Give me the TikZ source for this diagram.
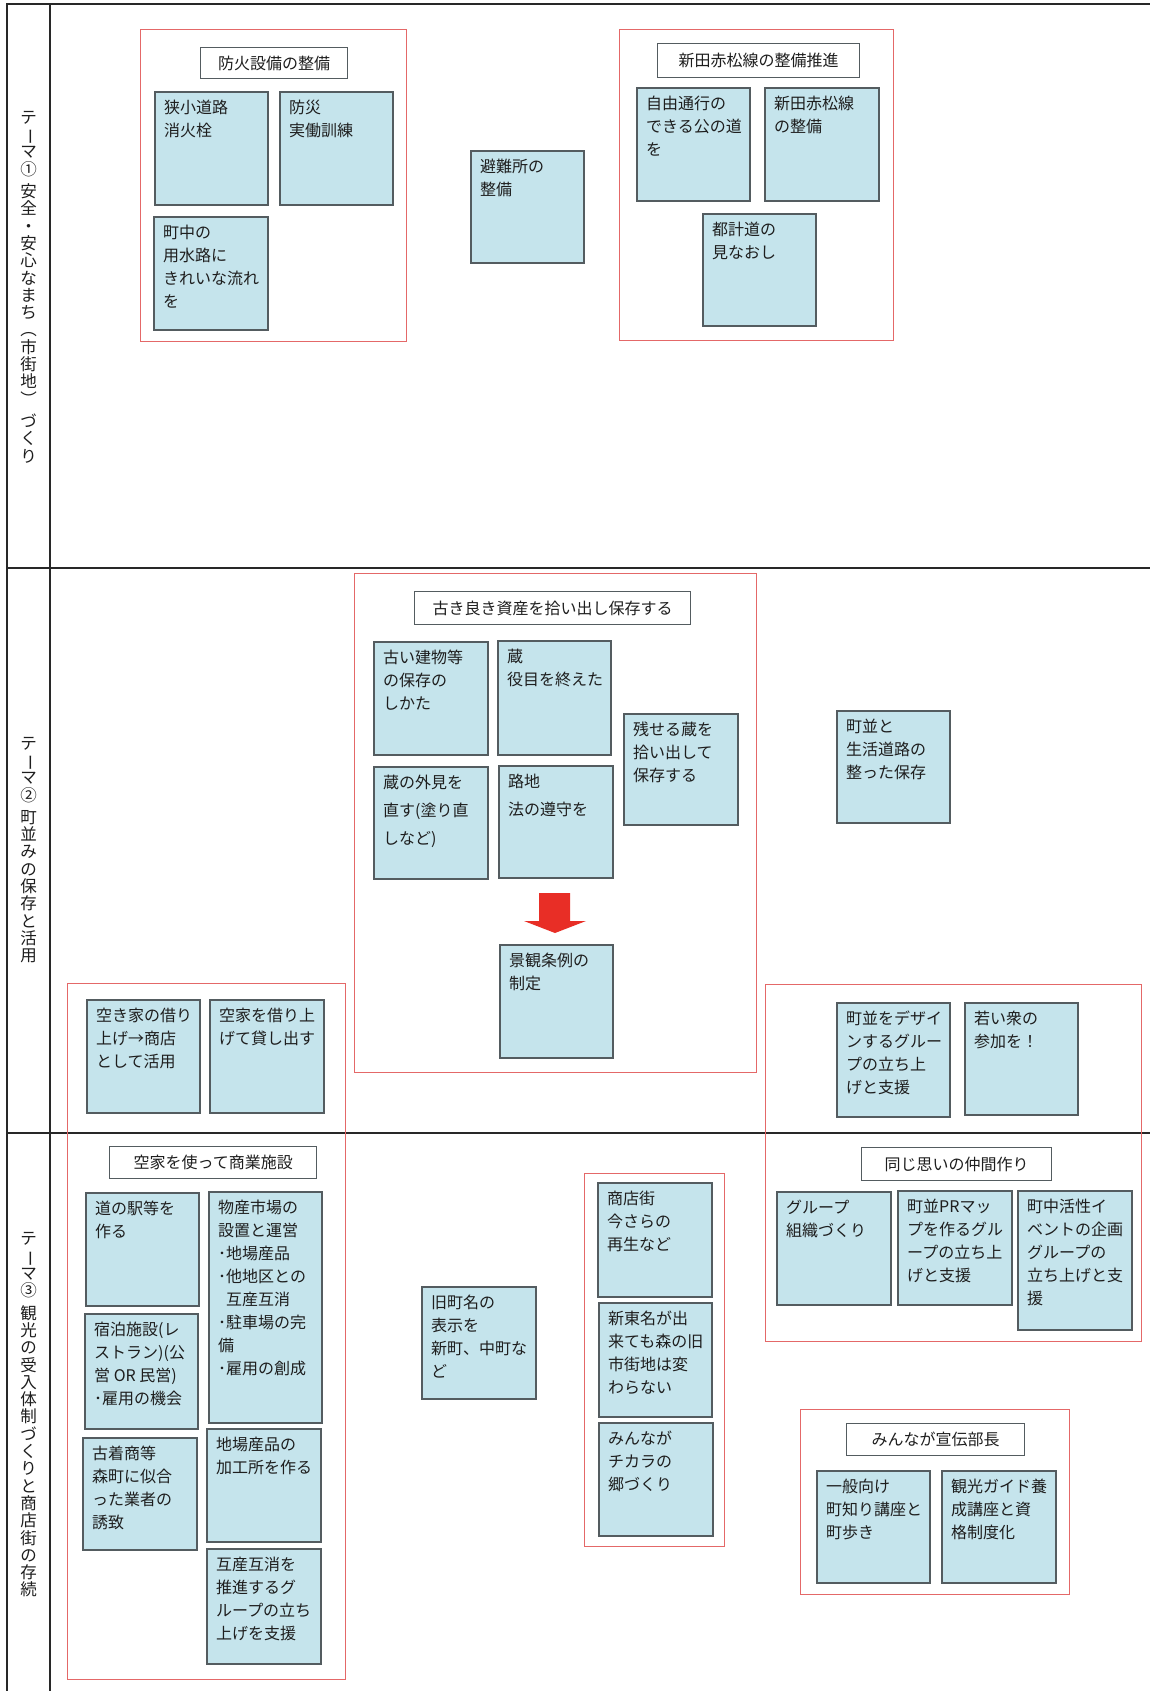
\documentclass[tikz,border=0pt]{standalone}
\usepackage{fontspec}
\usepackage{graphicx}
\setmainfont{Noto Sans CJK JP}
\definecolor{stickfill}{RGB}{197,228,236}
\definecolor{stickline}{RGB}{84,92,96}
\definecolor{groupred}{RGB}{228,104,104}
\definecolor{framecol}{RGB}{40,40,40}
\definecolor{txtcol}{RGB}{30,30,30}
\definecolor{arrowred}{RGB}{232,46,38}
\tikzset{
  stickbox/.style={draw=stickline, line width=1.8pt, fill=stickfill, anchor=north west, inner sep=0pt},
  sticktext/.style={anchor=north west, inner sep=0pt, align=left, text=txtcol},
  titlebox/.style={draw=stickline, line width=1.4pt, fill=white, text=txtcol, anchor=north west, inner sep=0pt, font=\fontsize{16pt}{20pt}\selectfont},
  groupbox/.style={draw=groupred, line width=1.4pt, anchor=north west, inner sep=0pt},
  frameline/.style={draw=framecol, line width=2.5pt},
  vlabel/.style={align=center, inner sep=0pt, text=txtcol, font=\fontsize{16.5pt}{17.3pt}\selectfont},
}
\newcommand\stk[7][23]{%
  \node[stickbox, minimum width=#5pt-#3pt, minimum height=#6pt-#4pt] (#2) at (#3,#4) {};
  \node[sticktext, font=\fontsize{16pt}{#1pt}\selectfont] (#2-t) at ([shift={(10pt,-6pt)}]#2.north west) {\rule{0pt}{16pt}#7};
}
\newcommand\ttl[6]{%
  \node[titlebox, minimum width=#4pt-#2pt, minimum height=#5pt-#3pt] (#1) at (#2,#3) {#6};
}
\newcommand\grp[5]{%
  \node[groupbox, minimum width=#4pt-#2pt, minimum height=#5pt-#3pt] (#1) at (#2,#3) {};
}
\newcommand\vbar{\rotatebox[origin=c]{-90}{ー}}
\begin{document}
\begin{tikzpicture}[x=1pt,y=-1pt]
\useasboundingbox (0,0) rectangle (1150,1691);
\fill[white] (0,0) rectangle (1150,1691);
% frame
\coordinate (ftl) at (7,4);
\coordinate (ftr) at (1150,4);
\coordinate (fbl) at (7,1691);
\coordinate (cdt) at (50,4);
\coordinate (cdb) at (50,1691);
\coordinate (r1l) at (7,568);
\coordinate (r1r) at (1150,568);
\coordinate (r2l) at (7,1133);
\coordinate (r2r) at (1150,1133);
\draw[frameline] (ftr) -- (ftl) -- (fbl);
\draw[frameline] (cdt) -- (cdb);
\draw[frameline, line width=2pt] (r1l) -- (r1r);
\draw[frameline, line width=2pt] (r2l) -- (r2r);
% labels
\node[vlabel] (lab1) at (28.5,287) {テ\\\vbar\\マ\\①\\[5pt]安\\全\\・\\安\\心\\な\\ま\\ち\\︵\\市\\街\\地\\︶\\[5pt]づ\\く\\り};
\node[vlabel] (lab2) at (28.5,850) {テ\\\vbar\\マ\\②\\[5pt]町\\並\\み\\の\\保\\存\\と\\活\\用};
\node[vlabel] (lab3) at (28.5,1415) {テ\\\vbar\\マ\\③\\[5pt]観\\光\\の\\受\\入\\体\\制\\づ\\く\\り\\と\\商\\店\\街\\の\\存\\続};
% ---------- row 1
\grp{g1}{140}{29}{406}{341}
\ttl{t1}{200}{47}{347}{78}{防火設備の整備}
\stk{b11}{154}{91}{267}{204}{狭小道路\\消火栓}
\stk{b12}{279}{91}{392}{204}{防災\\実働訓練}
\stk{b13}{153}{216}{267}{329}{町中の\\用水路に\\きれいな流れ\\を}
\stk{b14}{470}{150}{583}{262}{避難所の\\整備}
\grp{g2}{619}{29}{893}{340}
\ttl{t2}{657}{43}{859}{77}{新田赤松線の整備推進}
\stk{b15}{636}{87}{749}{200}{自由通行の\\できる公の道\\を}
\stk{b16}{764}{87}{878}{200}{新田赤松線\\の整備}
\stk{b17}{702}{213}{815}{325}{都計道の\\見なおし}
% ---------- row 2
\grp{g3}{354}{573}{756}{1072}
\ttl{t3}{414}{591}{690}{624}{古き良き資産を拾い出し保存する}
\stk{b21}{373}{641}{487}{754}{古い建物等\\の保存の\\しかた}
\stk{b22}{497}{640}{610}{754}{蔵\\役目を終えた}
\stk{b23}{623}{713}{737}{824}{残せる蔵を\\拾い出して\\保存する}
\stk[28]{b24}{373}{766}{487}{878}{蔵の外見を\\直す(塗り直\\しなど)}
\stk[28]{b25}{498}{765}{612}{877}{路地\\法の遵守を}
\stk{b26}{499}{944}{612}{1057}{景観条例の\\制定}
\fill[arrowred] (539,893) -- (570,893) -- (570,921) -- (586,921) -- (555,933) -- (524,921) -- (539,921) -- cycle;
\stk{b27}{836}{710}{949}{822}{町並と\\生活道路の\\整った保存}
\grp{g4}{765}{984}{1141}{1341}
\stk{b28}{836}{1002}{949}{1116}{町並をデザイ\\ンするグルー\\プの立ち上\\げと支援}
\stk{b29}{964}{1002}{1077}{1114}{若い衆の\\参加を！}
\grp{g5}{67}{983}{345}{1679}
\stk{b2a}{86}{999}{199}{1112}{空き家の借り\\上げ→商店\\として活用}
\stk{b2b}{209}{999}{323}{1112}{空家を借り上\\げて貸し出す}
% ---------- row 3
\ttl{t4}{109}{1146}{316}{1178}{空家を使って商業施設}
\stk{b31}{85}{1192}{198}{1305}{道の駅等を\\作る}
\stk{b32}{208}{1191}{321}{1422}{物産市場の\\設置と運営\\･地場産品\\･他地区との\\\hspace*{8pt}互産互消\\･駐車場の完\\備\\･雇用の創成}
\stk{b33}{84}{1313}{197}{1428}{宿泊施設(レ\\ストラン)(公\\営 OR 民営)\\･雇用の機会}
\stk{b34}{82}{1437}{196}{1549}{古着商等\\森町に似合\\った業者の\\誘致}
\stk{b35}{206}{1428}{320}{1541}{地場産品の\\加工所を作る}
\stk{b36}{206}{1548}{320}{1663}{互産互消を\\推進するグ\\ループの立ち\\上げを支援}
\stk{b37}{421}{1286}{535}{1398}{旧町名の\\表示を\\新町、中町な\\ど}
\grp{g6}{584}{1173}{724}{1546}
\stk{b38}{597}{1182}{711}{1296}{商店街\\今さらの\\再生など}
\stk{b39}{598}{1302}{711}{1416}{新東名が出\\来ても森の旧\\市街地は変\\わらない}
\stk{b3a}{598}{1422}{712}{1535}{みんなが\\チカラの\\郷づくり}
\ttl{t5}{861}{1147}{1051}{1180}{同じ思いの仲間作り}
\stk{b3b}{776}{1191}{890}{1304}{グループ\\組織づくり}
\stk{b3c}{897}{1190}{1011}{1304}{町並PRマッ\\プを作るグル\\ープの立ち上\\げと支援}
\stk{b3d}{1017}{1190}{1131}{1329}{町中活性イ\\ベントの企画\\グループの\\立ち上げと支\\援}
\grp{g7}{800}{1409}{1069}{1594}
\ttl{t6}{846}{1423}{1024}{1455}{みんなが宣伝部長}
\stk{b3e}{816}{1470}{929}{1582}{一般向け\\町知り講座と\\町歩き}
\stk{b3f}{941}{1470}{1055}{1582}{観光ガイド養\\成講座と資\\格制度化}
\end{tikzpicture}
\end{document}
